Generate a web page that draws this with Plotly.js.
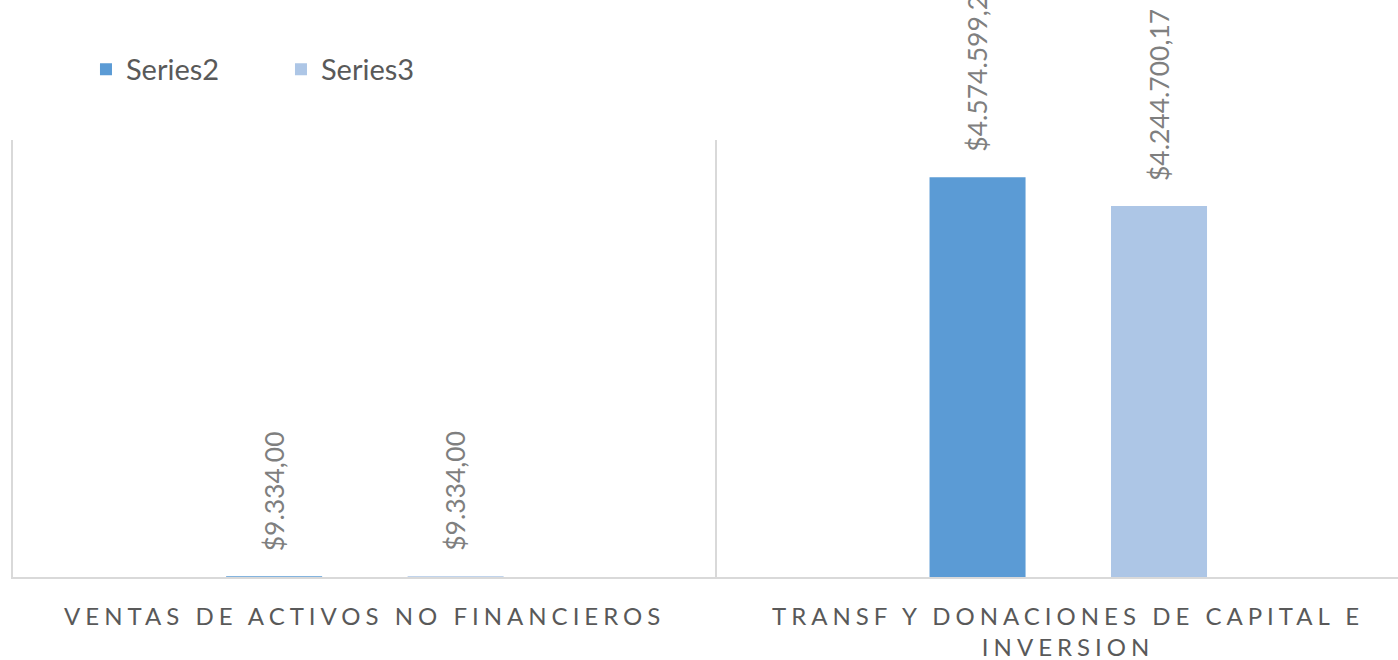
<!DOCTYPE html>
<html>
<head>
<meta charset="utf-8">
<script src="https://cdn.plot.ly/plotly-3.0.1.min.js"></script>
<style>
  html, body { margin: 0; padding: 0; background: #fff; }
  #chart { width: 1398px; height: 660px; }
  .xtick text { letter-spacing: 5px; }
</style>
</head>
<body>
<div id="chart"></div>
<script>
// ---- data ----
const categories = ["VENTAS DE ACTIVOS NO FINANCIEROS", "TRANSF Y DONACIONES DE CAPITAL E INVERSION"];
const tickLabels = ["VENTAS DE ACTIVOS NO FINANCIEROS", "TRANSF Y DONACIONES DE CAPITAL E<br>INVERSION"];
const seriesNames = ["Series2", "Series3"];
const series2 = [9334.00, 4574599.20];
const series3 = [9334.00, 4244700.17];

// ---- style ----
const colors = ["#5b9bd5", "#adc6e6"];
const BAR_W = 0.1365;
const OFFSETS = [-0.197, 0.061];
const FONT = "Lato, 'Open Sans', sans-serif";

function fmt(v) {
  const parts = v.toFixed(2).split(".");
  const intPart = parts[0].replace(/\B(?=(\d{3})+(?!\d))/g, ".");
  return "$" + intPart + "," + parts[1];
}

const allSeries = [series2, series3];
const traces = allSeries.map((vals, i) => ({
  type: "bar",
  name: seriesNames[i],
  x: categories,
  y: vals,
  width: BAR_W,
  offset: OFFSETS[i],
  marker: { color: colors[i] },
  hoverinfo: "skip"
}));

const annotations = [];
allSeries.forEach((vals, i) => {
  vals.forEach((v, j) => {
    annotations.push({
      x: j + OFFSETS[i] + BAR_W / 2,
      y: v,
      xref: "x", yref: "y",
      text: fmt(v),
      textangle: -90,
      showarrow: false,
      xanchor: "center",
      yanchor: "bottom",
      yshift: 23,
      font: { family: FONT, size: 26.5, color: "#7f7f7f" }
    });
  });
});

const layout = {
  width: 1398,
  height: 660,
  paper_bgcolor: "#ffffff",
  plot_bgcolor: "#ffffff",
  margin: { l: 13, r: 0, t: 140, b: 83 },
  barmode: "overlay",
  showlegend: true,
  legend: {
    orientation: "h",
    xref: "container", yref: "container",
    x: 0.0615, y: 0.895,
    xanchor: "left", yanchor: "middle",
    entrywidth: 150, entrywidthmode: "pixels",
    font: { family: FONT, size: 29, color: "#595959" },
    traceorder: "normal"
  },
  xaxis: {
    type: "category",
    categoryorder: "array",
    categoryarray: categories,
    tickvals: categories,
    ticktext: tickLabels,
    range: [-0.5, 1.469],
    showgrid: true,
    tickson: "boundaries",
    gridcolor: "#d9d9d9",
    gridwidth: 2,
    showline: true,
    linecolor: "#d9d9d9",
    linewidth: 2,
    ticks: "",
    ticklabelstandoff: 17,
    tickfont: { family: FONT, size: 24, color: "#595959" },
    zeroline: false,
    fixedrange: true
  },
  yaxis: {
    range: [0, 5000000],
    showticklabels: false,
    showgrid: false,
    zeroline: false,
    showline: true,
    linecolor: "#d9d9d9",
    linewidth: 2,
    ticks: "",
    fixedrange: true
  },
  annotations: annotations,
  font: { family: FONT }
};

Plotly.newPlot("chart", traces, layout, { displayModeBar: false, staticPlot: true });
</script>
</body>
</html>
